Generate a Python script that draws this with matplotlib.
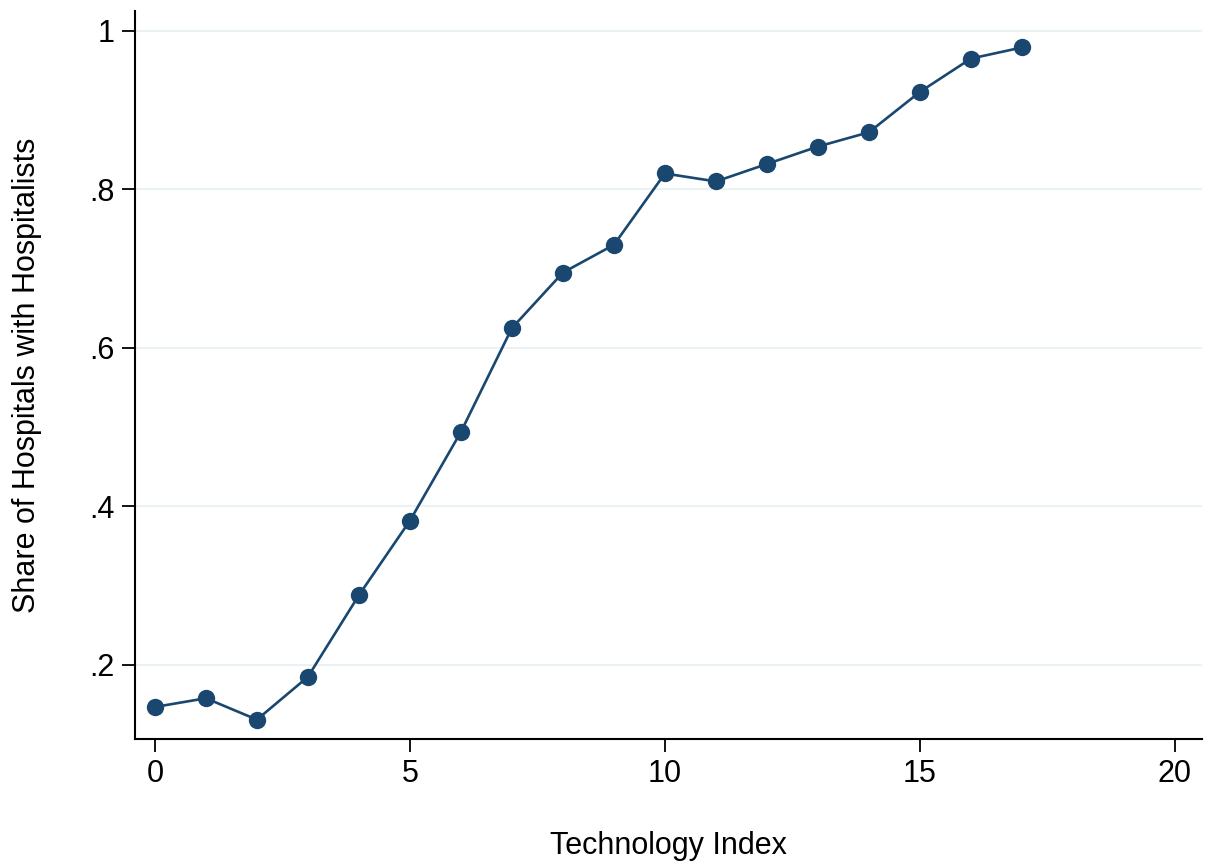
import matplotlib
matplotlib.use("Agg")
import matplotlib.pyplot as plt

tech_index = list(range(18))
share = [0.147, 0.158, 0.131, 0.185, 0.288, 0.382, 0.494, 0.625, 0.695, 0.730,
         0.820, 0.810, 0.832, 0.854, 0.872, 0.923, 0.965, 0.979]
x_ticks = [0, 5, 10, 15, 20]
y_ticks = [0.2, 0.4, 0.6, 0.8, 1.0]
y_tick_labels = [".2", ".4", ".6", ".8", "1"]

plt.rcParams['font.family'] = ['Liberation Sans', 'DejaVu Sans']

fig = plt.figure(figsize=(12.09, 8.63), dpi=100)
ax = fig.add_axes([135/1209, 1-739/863, (1202-135)/1209, (739-11)/863])

color = "#1a476f"
ax.plot(tech_index, share, color=color, lw=1.9, marker='o', markersize=12.5,
        markeredgewidth=0, zorder=3)

ax.set_xlim(-0.39, 20.53)
ax.set_ylim(0.1066, 1.025)
ax.set_xticks(x_ticks)
ax.set_yticks(y_ticks)
ax.set_yticklabels(y_tick_labels)
ax.yaxis.grid(True, color="#eaf2f3", lw=1.5)
ax.set_axisbelow(True)

for s in ['top', 'right']:
    ax.spines[s].set_visible(False)
for s in ['left', 'bottom']:
    ax.spines[s].set_linewidth(1.5)
    ax.spines[s].set_color('black')

ax.tick_params(axis='both', labelsize=22, length=9.5, width=1.3, pad=5)
ax.set_xlabel("Technology Index", fontsize=22, labelpad=30)
ax.set_ylabel("Share of Hospitals with Hospitalists", fontsize=22, labelpad=34)

fig.savefig("out.png", dpi=100)
